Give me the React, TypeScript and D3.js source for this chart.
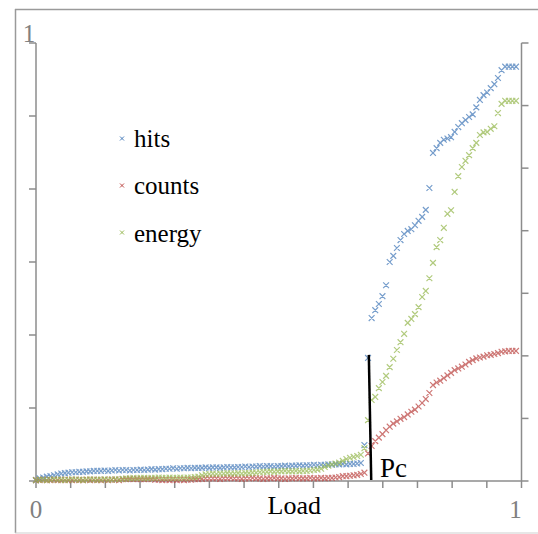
import React from "react";
import * as d3 from "d3";

const hits = [
0.002,0.006,0.008,0.010,0.011,0.013,0.015,0.017,0.018,0.019,
0.020,0.020,0.021,0.021,0.022,0.022,0.023,0.023,0.023,0.024,
0.023,0.024,0.025,0.024,0.025,0.025,0.024,0.025,0.025,0.026,
0.025,0.026,0.027,0.026,0.027,0.027,0.028,0.028,0.029,0.028,
0.029,0.029,0.030,0.029,0.030,0.030,0.030,0.031,0.030,0.031,
0.031,0.030,0.031,0.032,0.031,0.031,0.032,0.032,0.033,0.032,
0.033,0.033,0.034,0.033,0.034,0.034,0.033,0.034,0.034,0.035,
0.034,0.035,0.035,0.036,0.035,0.036,0.036,0.037,0.036,0.037,
0.037,0.038,0.037,0.038,0.038,0.039,0.038,0.039,0.039,0.040,
0.041,0.082,0.281,0.372,0.390,0.404,0.422,0.447,0.500,0.514,
0.532,0.550,0.564,0.571,0.575,0.584,0.594,0.603,0.619,0.669,
0.749,0.760,0.772,0.779,0.782,0.785,0.797,0.808,0.817,0.824,
0.831,0.837,0.853,0.870,0.881,0.887,0.897,0.906,0.920,0.938,
0.946,0.946,0.946,0.946];

const counts = [
0.002,0.002,0.003,0.002,0.002,0.003,0.002,0.002,0.003,0.002,
0.002,0.003,0.002,0.002,0.003,0.002,0.003,0.002,0.002,0.003,
0.002,0.003,0.003,0.002,0.004,0.004,0.005,0.004,0.005,0.004,
0.004,0.005,0.004,0.003,0.003,0.002,0.003,0.002,0.003,0.002,
0.003,0.002,0.003,0.003,0.004,0.004,0.005,0.006,0.006,0.006,
0.006,0.005,0.006,0.006,0.007,0.006,0.006,0.005,0.006,0.006,
0.007,0.006,0.006,0.005,0.006,0.006,0.007,0.006,0.006,0.005,
0.006,0.006,0.007,0.006,0.006,0.006,0.007,0.006,0.006,0.007,
0.006,0.007,0.007,0.008,0.009,0.011,0.011,0.012,0.013,0.014,
0.016,0.019,0.063,0.080,0.091,0.099,0.107,0.116,0.124,0.131,
0.136,0.142,0.146,0.152,0.158,0.163,0.170,0.178,0.187,0.201,
0.219,0.225,0.229,0.235,0.241,0.247,0.253,0.257,0.261,0.266,
0.272,0.276,0.280,0.282,0.284,0.287,0.288,0.290,0.292,0.295,
0.296,0.297,0.297,0.297];

const energy = [
0.002,0.003,0.003,0.002,0.003,0.004,0.003,0.003,0.002,0.003,
0.004,0.003,0.003,0.002,0.003,0.004,0.003,0.003,0.003,0.004,
0.003,0.003,0.004,0.004,0.005,0.006,0.006,0.007,0.006,0.007,
0.007,0.006,0.007,0.007,0.008,0.007,0.007,0.008,0.007,0.007,
0.008,0.007,0.008,0.008,0.009,0.010,0.013,0.015,0.016,0.017,
0.016,0.017,0.017,0.018,0.017,0.017,0.018,0.017,0.018,0.018,
0.019,0.019,0.020,0.021,0.021,0.022,0.021,0.022,0.022,0.023,
0.022,0.022,0.023,0.022,0.023,0.023,0.024,0.025,0.026,0.028,
0.032,0.035,0.038,0.040,0.042,0.046,0.050,0.053,0.055,0.057,
0.060,0.075,0.139,0.185,0.192,0.212,0.226,0.240,0.260,0.279,
0.299,0.317,0.336,0.361,0.370,0.381,0.397,0.420,0.434,0.463,
0.498,0.534,0.550,0.578,0.610,0.618,0.660,0.696,0.717,0.731,
0.744,0.760,0.772,0.790,0.796,0.797,0.804,0.810,0.840,0.861,
0.868,0.868,0.868,0.868];

const seriesNames = ["hits", "counts", "energy"];
const seriesColors = ["#4A7EBB", "#BE4B48", "#98B954"];
const seriesData = [hits, counts, energy];

const xTickCount = 14;
const leftTickCount = 6;
const rightTickCount = 7;
const pcLoad = 0.688;
const pcTop = 0.288;

const W = 538;
const H = 534;
const serif = "'Liberation Serif', 'Times New Roman', serif";
const axisColor = "#8c8c8c";

export default function App() {
  const left = 36, right = 521.5, top = 43, bottom = 481;
  const xLoad = d3.scaleLinear().domain([0, 1]).range([left, right]);
  const xIdx = d3.scaleLinear().domain([0, hits.length - 1]).range([left, 516]);
  const y = d3.scaleLinear().domain([0, 1]).range([bottom, top]);

  const xTicks = d3.range(xTickCount + 1).map((i) => i / xTickCount);
  const lTicks = d3.range(leftTickCount + 1).map((i) => i / leftTickCount);
  const rTicks = d3.range(rightTickCount + 1).map((i) => i / rightTickCount);

  const marker = (cx: number, cy: number, s: number) =>
    `M${cx - s},${cy - s}L${cx + s},${cy + s}M${cx - s},${cy + s}L${cx + s},${cy - s}`;

  return (
    <svg
      width={W}
      height={H}
      style={{ position: "absolute", left: 0, top: 0, background: "#fff" }}
      fontFamily={serif}
    >
      <rect x={0} y={0} width={W} height={H} fill="#fff" />
      {/* outer frame */}
      <line x1={15} y1={9.5} x2={W} y2={9.5} stroke="#9a9a9a" strokeWidth={1.5} />
      <line x1={15.5} y1={9} x2={15.5} y2={533} stroke="#9a9a9a" strokeWidth={1.5} />
      <line x1={15} y1={533} x2={W} y2={533} stroke="#cfcfcf" strokeWidth={1} />

      {/* left axis */}
      <line x1={left} y1={top} x2={left} y2={bottom} stroke={axisColor} strokeWidth={1.5} />
      {lTicks.map((t, i) => (
        <line key={"l" + i} x1={left - 7} x2={left} y1={y(t)} y2={y(t)} stroke={axisColor} strokeWidth={1.5} />
      ))}
      {/* right axis */}
      <line x1={right} y1={top} x2={right} y2={bottom} stroke={axisColor} strokeWidth={1.5} />
      {rTicks.map((t, i) => (
        <line key={"r" + i} x1={right} x2={right + 7} y1={y(t)} y2={y(t)} stroke={axisColor} strokeWidth={1.5} />
      ))}
      {/* bottom axis */}
      <line x1={left} y1={bottom} x2={right} y2={bottom} stroke={axisColor} strokeWidth={1.5} />
      {xTicks.map((t, i) => (
        <line key={"x" + i} x1={xLoad(t)} x2={xLoad(t)} y1={bottom} y2={bottom + 7} stroke={axisColor} strokeWidth={1.5} />
      ))}

      {/* axis labels */}
      <text x={29} y={42} fontSize={25} fill="#808080" textAnchor="middle">1</text>
      <text x={xLoad(0)} y={518} fontSize={25} fill="#808080" textAnchor="middle">0</text>
      <text x={xLoad(1) - 6} y={518} fontSize={25} fill="#808080" textAnchor="middle">1</text>
      <text x={xLoad(0.532)} y={514} fontSize={26} fill="#000" textAnchor="middle">Load</text>

      {/* data */}
      {seriesData.map((arr, si) => (
        <path
          key={"s" + si}
          d={arr.map((v, i) => marker(xIdx(i), y(v), 2.9)).join("")}
          stroke={seriesColors[si]}
          strokeWidth={1.2}
          strokeOpacity={0.75}
          fill="none"
        />
      ))}

      {/* Pc line */}
      <line x1={xLoad(pcLoad) - 1.2} y1={y(pcTop)} x2={xLoad(pcLoad) + 1.2} y2={bottom - 1} stroke="#000" strokeWidth={2.5} />
      <text x={380} y={477} fontSize={27} fill="#000">Pc</text>

      {/* legend */}
      {seriesNames.map((n, i) => (
        <g key={"lg" + i}>
          <path d={marker(122, 138.5 + i * 47, 2)} stroke={seriesColors[i]} strokeWidth={1} fill="none" />
          <text x={134} y={147 + i * 47.3} fontSize={25} fill="#000">{n}</text>
        </g>
      ))}
    </svg>
  );
}
